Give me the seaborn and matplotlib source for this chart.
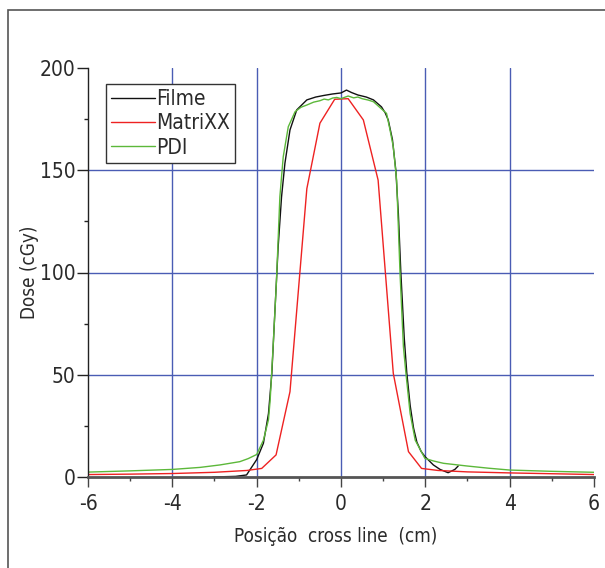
import glob
import matplotlib
matplotlib.use("Agg")
import matplotlib.pyplot as plt
from matplotlib import font_manager
from matplotlib.patches import Rectangle
from matplotlib.lines import Line2D
from matplotlib.ticker import MultipleLocator
import seaborn as sns
import pandas as pd

# ---------------- data ----------------
filme_x = [-3.04, -2.5, -2.24, -2.0, -1.84, -1.72, -1.64, -1.57, -1.49, -1.41, -1.33,
           -1.21, -1.05, -0.81, -0.6, -0.4, -0.2, 0.0, 0.13, 0.25, 0.4, 0.6, 0.77,
           0.96, 1.05, 1.12, 1.22, 1.30, 1.36, 1.42, 1.50, 1.56, 1.64, 1.72, 1.80,
           1.90, 1.99, 2.19, 2.35, 2.54, 2.70, 2.78]
filme_y = [0.0, 0.3, 1.0, 8.5, 16.5, 31, 50.7, 80, 112.6, 137, 153.4,
           169.7, 179.5, 184.4, 185.8, 186.6, 187.3, 187.8, 189.2, 188.0, 186.8, 185.8, 184.4,
           181, 178, 174.6, 165, 150, 129, 99.6, 68, 51, 35, 24, 17,
           12.5, 10, 5.9, 3.7, 2.1, 3.7, 5.4]

matrixx_x = [-6, -5, -4, -3, -2.23, -1.88, -1.54, -1.21, -0.81, -0.50, -0.15, 0.17,
             0.53, 0.88, 1.24, 1.60, 1.91, 2.3, 3, 4, 5, 6]
matrixx_y = [1.2, 1.4, 1.7, 2.3, 3.2, 4.2, 10.8, 41.7, 141, 173, 184.7, 185,
             174.6, 145.2, 50.7, 12.4, 4.2, 3.2, 2.5, 2.0, 1.6, 1.2]

pdi_x = [-6, -5, -4, -3.34, -2.87, -2.4, -2.2, -2.0, -1.84, -1.72, -1.68, -1.61, -1.53,
         -1.45, -1.37, -1.25, -1.09, -0.95, -0.81, -0.65, -0.5, -0.4, -0.3, -0.2, -0.1,
         0.0, 0.05, 0.17, 0.3, 0.4, 0.5, 0.65, 0.77, 0.96, 1.08, 1.16, 1.24, 1.32,
         1.40, 1.48, 1.54, 1.64, 1.76, 1.99, 2.2, 2.43, 2.98, 3.5, 4.0, 4.95, 6.0]
pdi_y = [2.4, 3.0, 3.7, 4.7, 5.9, 7.5, 9.0, 11, 18, 28, 37.6, 63.7, 96,
         137, 156.6, 171.3, 178.6, 180.8, 181.9, 183.3, 184.0, 184.8, 184.4, 185.3, 185.6,
         185.0, 185.4, 186.3, 185.4, 185.8, 185.0, 184.3, 183.5, 180, 177.8, 170, 161.5, 145,
         99.6, 63.7, 50.7, 31, 18, 9.1, 7.8, 6.7, 5.4, 4.3, 3.4, 2.8, 2.3]

series_names = ["Filme", "MatriXX", "PDI"]
x_ticks = [-6, -4, -2, 0, 2, 4, 6]
y_ticks = [0, 50, 100, 150, 200]
x_label = "Posição  cross line  (cm)"
y_label = "Dose (cGy)"

# ---------------- style ----------------
sns.set_theme(style="white")

def find_font(patterns):
    for pat in patterns:
        for root in ["/usr/share/fonts", "/usr/local/share/fonts", "/root/.fonts"]:
            hits = sorted(glob.glob(f"{root}/**/{pat}", recursive=True))
            if hits:
                return hits[0]
    return None

narrow = find_font(["LiberationSansNarrow-Regular.ttf", "DejaVuSansCondensed.ttf"])
stretch = "normal"
fam = "Liberation Sans"
if narrow:
    font_manager.fontManager.addfont(narrow)
    fam = font_manager.FontProperties(fname=narrow).get_name()
    if "DejaVu" in narrow:
        stretch = "condensed"
plt.rcParams["font.family"] = [fam, "DejaVu Sans"]
plt.rcParams["font.stretch"] = stretch

df = pd.concat([
    pd.DataFrame({"x": filme_x, "y": filme_y, "serie": series_names[0]}),
    pd.DataFrame({"x": matrixx_x, "y": matrixx_y, "serie": series_names[1]}),
    pd.DataFrame({"x": pdi_x, "y": pdi_y, "serie": series_names[2]}),
], ignore_index=True)

palette = {"Filme": "#111111", "MatriXX": "#ee2222", "PDI": "#5cb83a"}
grid_color = "#4a5cb4"
text_color = "#2a2a2a"

fig = plt.figure(figsize=(6.05, 5.68), dpi=100)
ax = fig.add_axes([88 / 605, 1 - 477 / 568, (594 - 88) / 605, (477 - 68) / 568])

for gx in [-4, -2, 0, 2, 4]:
    ax.axvline(gx, color=grid_color, lw=1.0, zorder=0)
for gy in [50, 100, 150]:
    ax.axhline(gy, color=grid_color, lw=1.0, zorder=0)

sns.lineplot(data=df, x="x", y="y", hue="serie", units="serie", estimator=None,
             sort=False, palette=palette, hue_order=series_names, lw=1.0, ax=ax,
             legend=False)

ax.set_xlim(-6, 6)
ax.set_ylim(0, 200)
ax.set_xticks(x_ticks)
ax.set_xticklabels([str(t) for t in x_ticks])
ax.set_yticks(y_ticks)
ax.set_yticklabels([str(t) for t in y_ticks])
ax.xaxis.set_minor_locator(MultipleLocator(1))
ax.yaxis.set_minor_locator(MultipleLocator(25))

for s in ["top", "right"]:
    ax.spines[s].set_visible(False)
ax.spines["left"].set_color("#222222")
ax.spines["left"].set_linewidth(1.0)
ax.spines["bottom"].set_color("#555555")
ax.spines["bottom"].set_linewidth(2.0)

ax.tick_params(axis="x", which="major", direction="out", length=7, width=1.0,
               color="#444444", labelsize=15, pad=5, labelcolor=text_color, bottom=True)
ax.tick_params(axis="x", which="minor", direction="out", length=3, width=1.0,
               color="#444444", bottom=True)
ax.tick_params(axis="y", which="major", direction="out", length=8, width=1.0,
               color="#222222", labelsize=15, pad=1, labelcolor=text_color, left=True)
ax.tick_params(axis="y", which="minor", direction="out", length=3, width=1.0,
               color="#222222", left=True)

ax.set_xlabel(x_label, fontsize=13.5, color=text_color)
ax.set_ylabel(y_label, fontsize=13.5, color=text_color)
ax.xaxis.set_label_coords(0.49, -0.122)
ax.yaxis.set_label_coords(-0.097, 0.5)

handles = [Line2D([], [], color=palette[n], lw=1.0) for n in series_names]
leg = ax.legend(handles, series_names, loc="upper left",
                bbox_to_anchor=((106 - 88) / 506, (477 - 84) / 409),
                fontsize=15, frameon=True, fancybox=False, framealpha=1,
                edgecolor="#333333", handlelength=2.1, handletextpad=0.05,
                borderpad=0.25, labelspacing=0.2, borderaxespad=0)
leg.get_frame().set_linewidth(1.0)
for t in leg.get_texts():
    t.set_color(text_color)

fig.patches.append(Rectangle((8 / 605, -0.1), 1.2, 1.1 - 10 / 568, transform=fig.transFigure,
                             fill=False, edgecolor="#555555", lw=1.2))

fig.savefig("out.png", dpi=100)
